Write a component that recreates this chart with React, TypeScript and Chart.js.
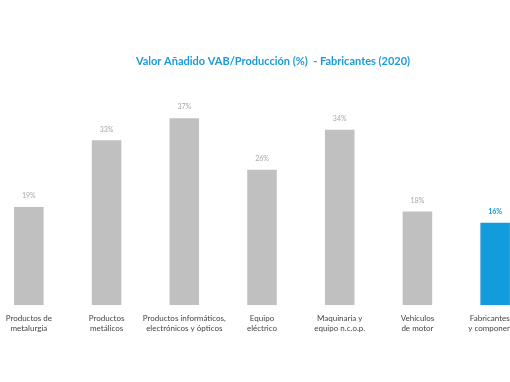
import React, { useEffect, useRef } from "react";
import { Chart, registerables } from "chart.js";

Chart.register(...registerables);

const titleText = "Valor Añadido VAB/Producción (%)  - Fabricantes (2020)";
const categories: string[][] = [
  ["Productos de", "metalurgia"],
  ["Productos", "metálicos"],
  ["Productos informáticos,", "electrónicos y ópticos"],
  ["Equipo", "eléctrico"],
  ["Maquinaria y", "equipo n.c.o.p."],
  ["Vehículos", "de motor"],
  ["Fabricantes de", "y componentes"],
];
const values = [19.4, 32.6, 37.0, 26.8, 34.7, 18.5, 16.3];
const valueLabels = ["19%", "33%", "37%", "26%", "34%", "18%", "16%"];

const GRAY = "#c0c0c0";
const BLUE = "#139cdc";

export default function App() {
  const ref = useRef<HTMLCanvasElement | null>(null);
  useEffect(() => {
    if (!ref.current) return;
    const colors = values.map((_, i) => (i === values.length - 1 ? BLUE : GRAY));
    const labelPlugin = {
      id: "valueLabels",
      afterDatasetsDraw(chart: any) {
        const ctx = chart.ctx;
        const meta = chart.getDatasetMeta(0);
        ctx.save();
        ctx.textAlign = "center";
        ctx.textBaseline = "middle";
        meta.data.forEach((bar: any, i: number) => {
          const last = i === values.length - 1;
          ctx.font = `${last ? "bold " : ""}7px Lato, "Open Sans", sans-serif`;
          ctx.fillStyle = last ? BLUE : "#a8a8a8";
          ctx.fillText(valueLabels[i], bar.x, bar.y - 11);
        });
        ctx.restore();
      },
    };
    const titlePlugin = {
      id: "customTitle",
      afterDraw(chart: any) {
        const ctx = chart.ctx;
        ctx.save();
        ctx.textAlign = "center";
        ctx.textBaseline = "middle";
        ctx.font = 'bold 11px Lato, "Open Sans", sans-serif';
        ctx.fillStyle = "#1f9ad6";
        ctx.fillText(titleText, chart.width / 2, 61);
        ctx.restore();
      },
    };
    const chart = new Chart(ref.current, {
      type: "bar",
      data: {
        labels: categories,
        datasets: [
          {
            data: values,
            backgroundColor: colors,
            barPercentage: 0.38,
            categoryPercentage: 1,
          },
        ],
      },
      options: {
        responsive: false,
        animation: false,
        layout: { padding: { top: 103, left: 0, right: 22, bottom: 0 } },
        plugins: {
          legend: { display: false },
          title: { display: false },
          tooltip: { enabled: false },
        },
        scales: {
          x: {
            grid: { display: false, drawTicks: false },
            border: { display: false },
            ticks: {
              color: "#444",
              font: { family: 'Lato, "Open Sans", sans-serif', size: 8 },
              padding: 9,
              maxRotation: 0,
              autoSkip: false,
            },
            afterFit: (scale: any) => {
              scale.height = 77;
            },
          },
          y: {
            display: false,
            min: 0,
            max: 40,
          },
        },
      },
      plugins: [labelPlugin, titlePlugin],
    });
    return () => chart.destroy();
  }, []);
  return (
    <div
      style={{
        position: "fixed",
        left: 0,
        top: 0,
        width: 510,
        height: 382,
        overflow: "hidden",
        background: "#fff",
      }}
    >
      <canvas
        ref={ref}
        width={566}
        height={382}
        style={{ position: "absolute", left: -10, top: 0, width: 566, height: 382 }}
      />
    </div>
  );
}
